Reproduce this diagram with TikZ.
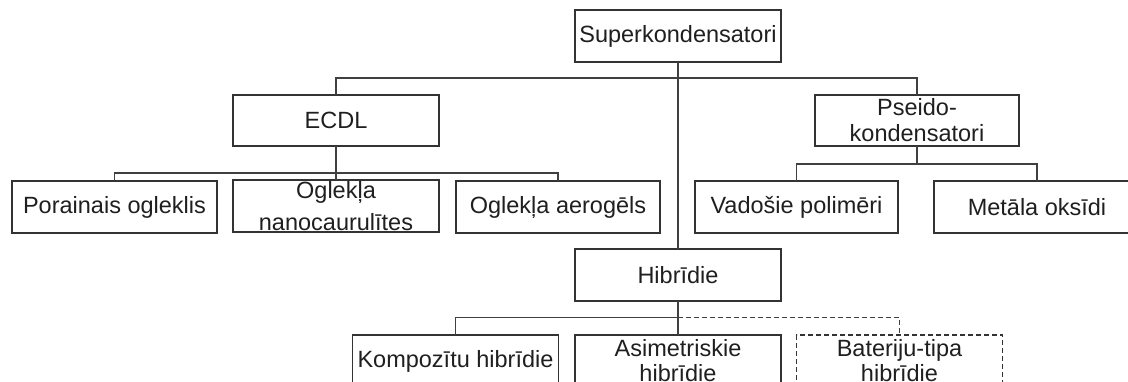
\documentclass[tikz,border=0pt]{standalone}
\usepackage{fontspec}
\setmainfont{Liberation Sans}
\begin{document}
\begin{tikzpicture}[x=1pt,y=-1pt,
  box/.style={draw=black!80, line width=1.3pt, fill=white, inner sep=0pt, outer sep=0pt,
    minimum width=206pt, minimum height=52pt, align=center,
    font=\fontsize{23.5}{26}\selectfont, text=black!88},
  dbox/.style={box, dash pattern=on 5pt off 3pt},
  link/.style={draw=black!75, line width=1.1pt},
  dlink/.style={link, dash pattern=on 5pt off 3pt}]
\useasboundingbox (0,0) rectangle (1128,382);

% bus levels
\coordinate (topbus) at (0,78);
\coordinate (ecdlbus) at (0,173);
\coordinate (pseidobus) at (0,164);
\coordinate (hibbus) at (0,317.5);

% top level
\node[box] (super) at (678,36) {Superkondensatori};

% second level
\node[box, minimum height=51pt] (ecdl) at (336,120.5) {ECDL};
\node[box, minimum width=204pt, minimum height=51pt]
  (pseido) at (917,120.5) {Pseido-\\kondensatori};
\node[box] (hib) at (678,275) {Hibrīdie};

% ECDL children
\node[box, minimum width=205pt] (por) at (114.5,207) {Porainais ogleklis};
\node[box, font=\fontsize{23.5}{32}\selectfont] (nano) at (336,206) {Oglekļa\\nanocaurulītes};
\node[box, minimum width=204pt] (aero) at (558,207) {Oglekļa aerogēls};

% pseudo-capacitor children
\node[box, minimum width=203pt] (vad) at (796.5,207) {Vadošie polimēri};
\node[box] (met) at (1037,207) {Metāla oksīdi};

% hybrid children
\node[box] (komp) at (455.5,361) {Kompozītu hibrīdie};
\node[box, font=\fontsize{23.5}{25}\selectfont] (asim) at (678,361) {Asimetriskie\\hibrīdie};
\node[dbox, font=\fontsize{23.5}{25}\selectfont] (bat) at (899.5,361) {Bateriju-tipa\\hibrīdie};

% connectors from the top node
\draw[link] (super.south) -- (hib.north);
\draw[link] (ecdl.north) |- (pseido.north |- topbus) -- (pseido.north);

% ECDL branch
\draw[link] (ecdl.south) -- (ecdl.south |- ecdlbus);
\draw[link] (por.north) |- (aero.north |- ecdlbus) -- (aero.north);
\draw[link] (nano.north) -- (nano.north |- ecdlbus);

% pseudo-capacitor branch
\draw[link] (pseido.south) -- (pseido.south |- pseidobus);
\draw[link] (vad.north) |- (met.north |- pseidobus) -- (met.north);

% hybrid branch
\draw[link] (hib.south) -- (asim.north);
\draw[link] (komp.north) |- (hib.south |- hibbus);
\draw[dlink] (hib.south |- hibbus) -| (bat.north);
\end{tikzpicture}
\end{document}
